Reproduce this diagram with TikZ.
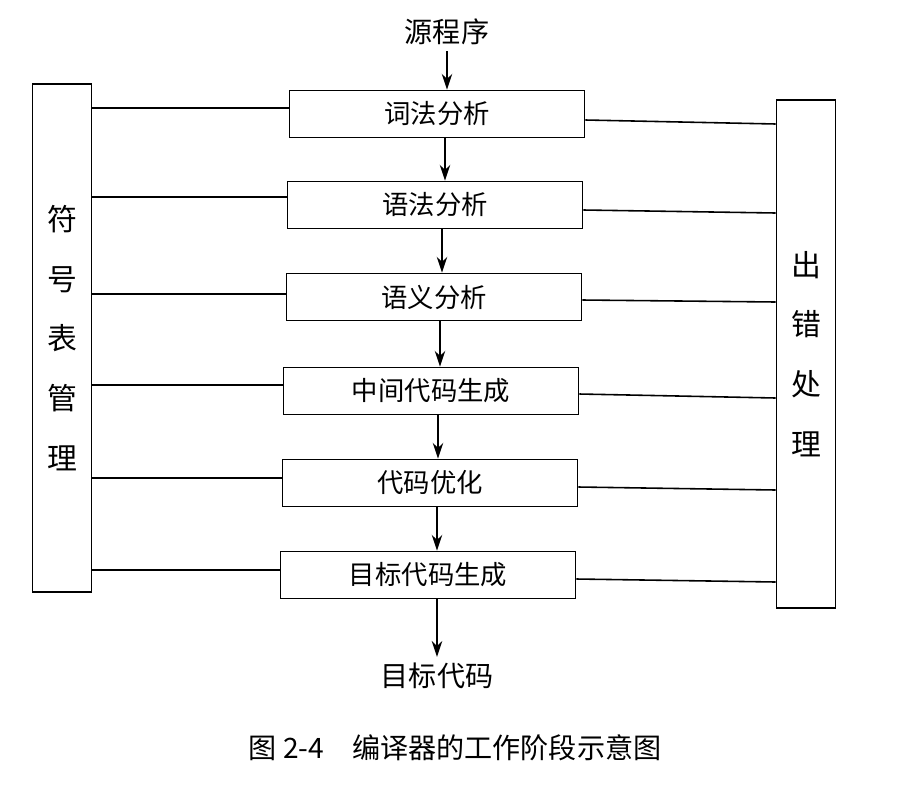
\documentclass[tikz,border=0pt]{standalone}
\usepackage{fontspec}
\setmainfont{Noto Sans CJK SC}
\usetikzlibrary{arrows.meta}
\begin{document}
\begin{tikzpicture}[x=0.02cm,y=-0.02cm,
  stage/.style={draw,line width=1pt,minimum width=5.9cm,minimum height=0.94cm,inner sep=0pt,font=\fontsize{15}{18}\selectfont},
  side/.style={draw,line width=1pt,minimum width=1.18cm,minimum height=10.16cm,inner sep=0pt,font=\fontsize{17}{34}\selectfont,align=center},
  lbl/.style={font=\fontsize{16}{18}\selectfont},
  flow/.style={line width=0.9pt,-{Stealth[length=9pt,width=6pt]}},
  link/.style={line width=0.9pt}]
\useasboundingbox (0,0) rectangle (912,788);
\node[lbl] (src) at (447,32) {源程序};
\node[stage] (s1) at (437,114) {词法分析};
\node[stage] (s2) at (435,205) {语法分析};
\node[stage] (s3) at (434,297) {语义分析};
\node[stage] (s4) at (431,391) {中间代码生成};
\node[stage] (s5) at (430,483) {代码优化};
\node[stage] (s6) at (428,575) {目标代码生成};
\node[lbl] (dst) at (437,676) {目标代码};
\node[side] (L) at (62,338) {符\\号\\表\\管\\理};
\node[side] (R) at (806,354) {出\\错\\处\\理};
\node[font=\fontsize{16}{18}\selectfont] (cap) at (455,748) {图 2-4\quad 编译器的工作阶段示意图};
\draw[flow] (src) -- (s1.north-|src);
\draw[flow] (s1.south-|445,0) -- (s2.north-|445,0);
\draw[flow] (s2.south-|442,0) -- (s3.north-|442,0);
\draw[flow] (s3.south-|440,0) -- (s4.north-|440,0);
\draw[flow] (s4.south-|438,0) -- (s5.north-|438,0);
\draw[flow] (s5.south-|437,0) -- (s6.north-|437,0);
\draw[flow] (s6.south-|437,0) -- (dst.north-|437,0);
\foreach \s/\y in {s1/108,s2/197,s3/294,s4/385,s5/478,s6/570}
  \draw[link] (L.east|-0,\y) -- (\s.west|-0,\y);
\foreach \s/\a/\b in {s1/120/124,s2/210/213,s3/300/302,s4/394/398,s5/487/490,s6/579/582}
  \draw[link] (\s.east|-0,\a) -- (R.west|-0,\b);
\end{tikzpicture}
\end{document}
